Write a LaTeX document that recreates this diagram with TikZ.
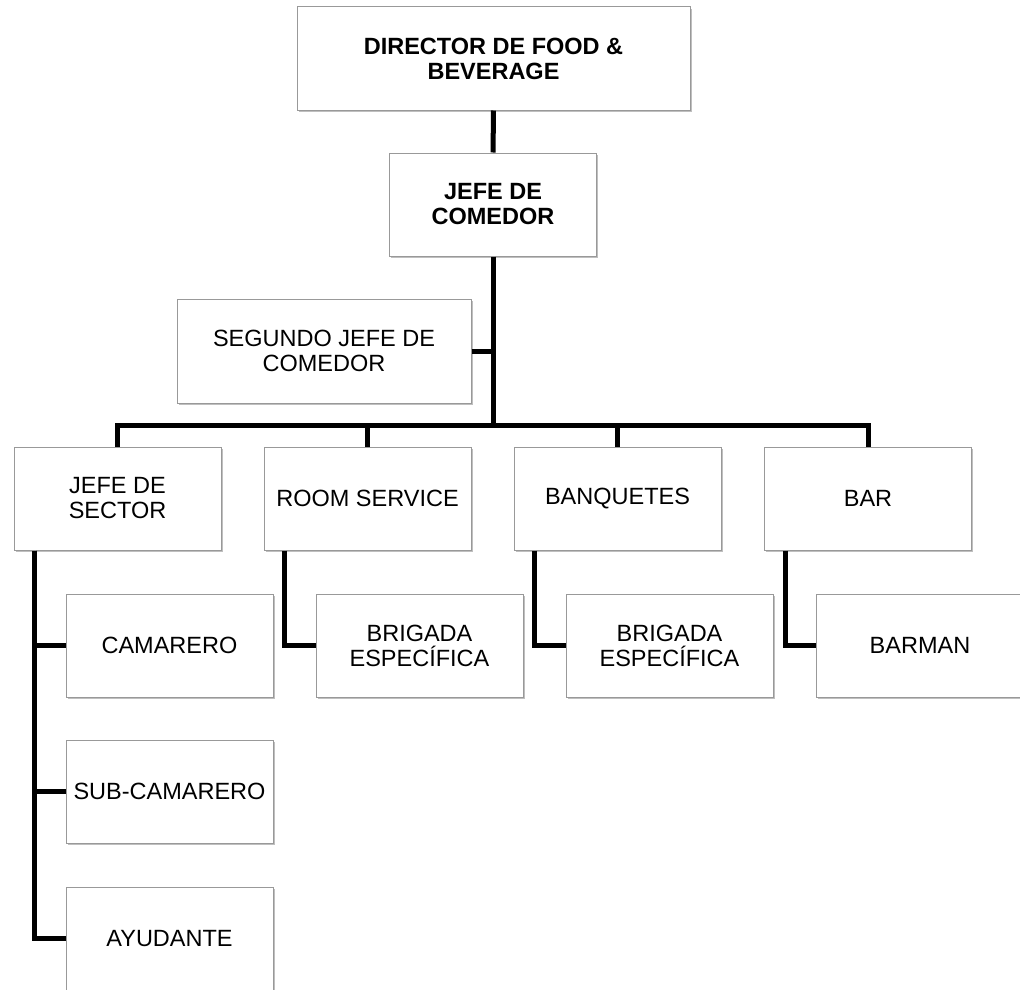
\documentclass[tikz,border=0pt]{standalone}
\usepackage{fontspec}
\setmainfont{Liberation Sans}
\usetikzlibrary{shadows}

\begin{document}
\begin{tikzpicture}[x=1pt, y=-1pt,
	puesto/.style={draw=black!40, line width=1pt, fill=white, inner sep=0pt,
		minimum width=207pt, minimum height=103pt, align=center,
		font=\fontsize{23.5}{25}\selectfont,
		drop shadow={shadow xshift=1.5pt, shadow yshift=-2pt, opacity=0.25, fill=black}},
	jefatura/.style={puesto, font=\fontsize{23.5}{25}\selectfont\bfseries},
	linea/.style={line width=5pt}]
				\useasboundingbox (0,0) rectangle (1020,990);
				\node[jefatura, minimum width=393pt] (director)at(493.5, 58.5) {DIRECTOR DE FOOD \&\\BEVERAGE};
				\node[jefatura] (jefe)at(493, 204.5) {JEFE DE\\COMEDOR};
				\node[puesto, minimum width=294pt, minimum height=104pt] (segundo)at(324, 351) {SEGUNDO JEFE DE\\COMEDOR};
				\node[puesto] (sector)at(117.5, 498.5) {JEFE DE\\SECTOR};
				\node[puesto] (room)at(367.5, 498.5) {ROOM SERVICE};
				\node[puesto] (banquetes)at(617.5, 498.5) {BANQUETES};
				\node[puesto] (bar)at(868, 498.5) {BAR};
				\node[puesto] (camarero)at(169.5, 645.5) {CAMARERO};
				\node[puesto] (subcamarero)at(169.5, 791.5) {SUB-CAMARERO};
				\node[puesto] (ayudante)at(169.5, 938.5) {AYUDANTE};
				\node[puesto] (brigadaroom)at(419.5, 645.5) {BRIGADA\\ESPECÍFICA};
				\node[puesto] (brigadabanq)at(669.5, 645.5) {BRIGADA\\ESPECÍFICA};
				\node[puesto] (barman)at(920, 645.5) {BARMAN};
				\coordinate (bus) at (493, 425);
				\draw[linea] (director) -- (jefe);
				\draw[linea] (jefe) -- (bus);
				\draw[linea] (segundo.east) -- (segundo.east -| jefe.south);
				\draw[linea] (sector.north) |- (bus) -| (bar.north);
				\draw[linea] (bus) -| (room.north);
				\draw[linea] (bus) -| (banquetes.north);
				\draw[linea] ([xshift=21pt]sector.south west) |- (camarero.west);
				\draw[linea] ([xshift=21pt]sector.south west) |- (subcamarero.west);
				\draw[linea] ([xshift=21pt]sector.south west) |- (ayudante.west);
				\draw[linea] ([xshift=21pt]room.south west) |- (brigadaroom.west);
				\draw[linea] ([xshift=21pt]banquetes.south west) |- (brigadabanq.west);
				\draw[linea] ([xshift=21pt]bar.south west) |- (barman.west);
			\end{tikzpicture}
\end{document}
